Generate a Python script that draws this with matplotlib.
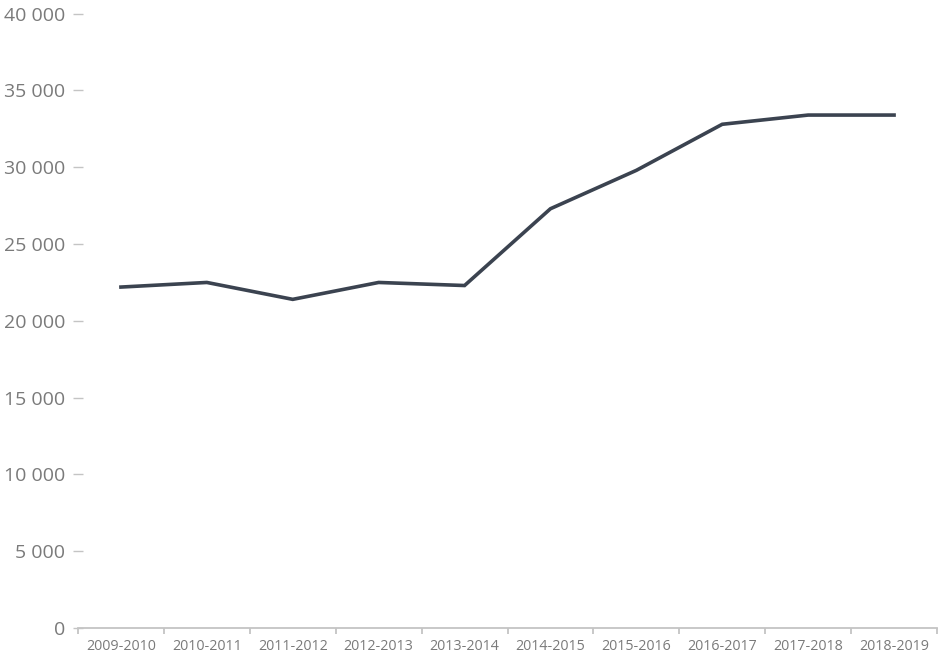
import numpy as np
import matplotlib.pyplot as plt

# ==========================================================
# Data
# ==========================================================
years = ["2009-2010", "2010-2011", "2011-2012", "2012-2013", "2013-2014",
         "2014-2015", "2015-2016", "2016-2017", "2017-2018", "2018-2019"]
values = [22200, 22500, 21400, 22500, 22300, 27300, 29800, 32800, 33400, 33400]
y_ticks = [0, 5000, 10000, 15000, 20000, 25000, 30000, 35000, 40000]

# ==========================================================
# Style
# ==========================================================
plt.rcParams.update({
    "font.family": ["Open Sans", "DejaVu Sans"],
    "figure.dpi": 100,
})

grey_text = "#7a7a7a"
grey_axis = "#c4c4c4"
line_col = "#3b4350"

fig = plt.figure(figsize=(9.43, 6.67))
ax = fig.add_axes([78 / 943, 39 / 667, (937 - 78) / 943, (628 - 13.7) / 667])

x = np.arange(len(years))
ax.plot(x, values, color=line_col, linewidth=2.6, solid_joinstyle="miter")

ax.set_xlim(-0.5, len(years) - 0.5)
ax.set_ylim(0, 40000)

# y axis: no spine, short grey dashes
ax.spines["left"].set_visible(False)
ax.spines["right"].set_visible(False)
ax.spines["top"].set_visible(False)
ax.spines["bottom"].set_color(grey_axis)
ax.spines["bottom"].set_linewidth(1.3)

ax.set_yticks(y_ticks)
ax.set_yticklabels([f"{v:,}".replace(",", " ") for v in y_ticks])
ax.tick_params(axis="y", direction="inout", length=6.5, width=1.0,
               color=grey_axis, labelcolor=grey_text, labelsize=14, pad=6)

# x axis: labels centred, tick marks at category boundaries
ax.set_xticks(x)
ax.set_xticklabels(years)
ax.set_xticks(np.arange(-0.5, len(years), 1), minor=True)
ax.tick_params(axis="x", which="major", length=0, labelcolor=grey_text,
               labelsize=10.3, pad=8)
ax.tick_params(axis="x", which="minor", direction="out", length=4,
               width=1.3, color=grey_axis)

plt.savefig("out.png", dpi=100)
